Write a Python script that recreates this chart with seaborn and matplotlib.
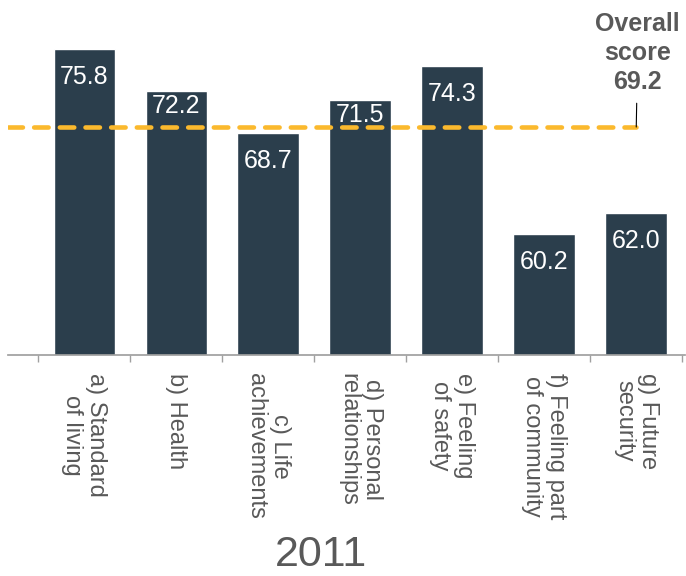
import matplotlib
matplotlib.use("Agg")
import matplotlib.pyplot as plt
import seaborn as sns
import numpy as np

categories = ["a) Standard\nof living", "b) Health", "c) Life\nachievements",
              "d) Personal\nrelationships", "e) Feeling\nof safety",
              "f) Feeling part\nof community", "g) Future\nsecurity"]
scores = [75.8, 72.2, 68.7, 71.5, 74.3, 60.2, 62.0]
overall = 69.2
year = "2011"

bar_color = "#2B3E4C"
line_color = "#FBB92D"
text_grey = "#595959"

sns.set_theme(style="white")
plt.rcParams["font.family"] = ["Liberation Sans", "DejaVu Sans"]

fig = plt.figure(figsize=(6.86, 5.76), dpi=100)
ax = fig.add_axes([8 / 686, 221 / 576, 677 / 686, 355 / 576])

sns.barplot(x=categories, y=scores, color=bar_color, saturation=1, width=0.67, ax=ax)
ax.set_ylim(50, 79.9)
ax.set_xlim(-0.83, 6.53)

# value labels inside the bars, moved up if they would sit on the dashed line
for i, v in enumerate(scores):
    off = 28
    center = v - off / 11.86
    if abs(center - overall) < 1.0:
        off = 15
    ax.annotate(f"{v:.1f}", xy=(i, v), xytext=(0, -off / 1.389), textcoords="offset points",
                ha="center", va="center", color="white", fontsize=18)

# overall score dashed line
ax.plot([ax.get_xlim()[0], len(scores) - 1], [overall, overall], color=line_color,
        lw=3.3, linestyle=(0, (3.15, 2.45)), dash_capstyle="round", zorder=3)
ax.annotate(f"Overall\nscore\n{overall}", xy=(len(scores) - 1, overall), xytext=(1, 24),
            textcoords="offset points", ha="center", va="bottom", fontsize=18,
            fontweight="bold", color=text_grey, linespacing=1.25,
            arrowprops=dict(arrowstyle="-", color="black", lw=0.8, shrinkA=4.5, shrinkB=0))

# axes styling
for s in ["top", "right", "left"]:
    ax.spines[s].set_visible(False)
ax.spines["bottom"].set_color("#A0A0A0")
ax.set_yticks([])
ax.set_xlabel("")
ax.set_ylabel("")
ax.set_xticks(range(len(categories)))
ax.set_xticklabels(categories, rotation=270, ha="center", va="top",
                   multialignment="center", linespacing=1.12)
ax.tick_params(axis="x", which="major", length=0, pad=13, labelsize=17, labelcolor=text_grey)
ax.set_xticks(np.arange(-0.5, len(categories), 1), minor=True)
ax.tick_params(axis="x", which="minor", length=5, width=1, color="#A0A0A0", bottom=True)

fig.text(321 / 686, 21 / 576, year, ha="center", va="center", fontsize=31, color=text_grey)

fig.savefig("out.png", dpi=100)
